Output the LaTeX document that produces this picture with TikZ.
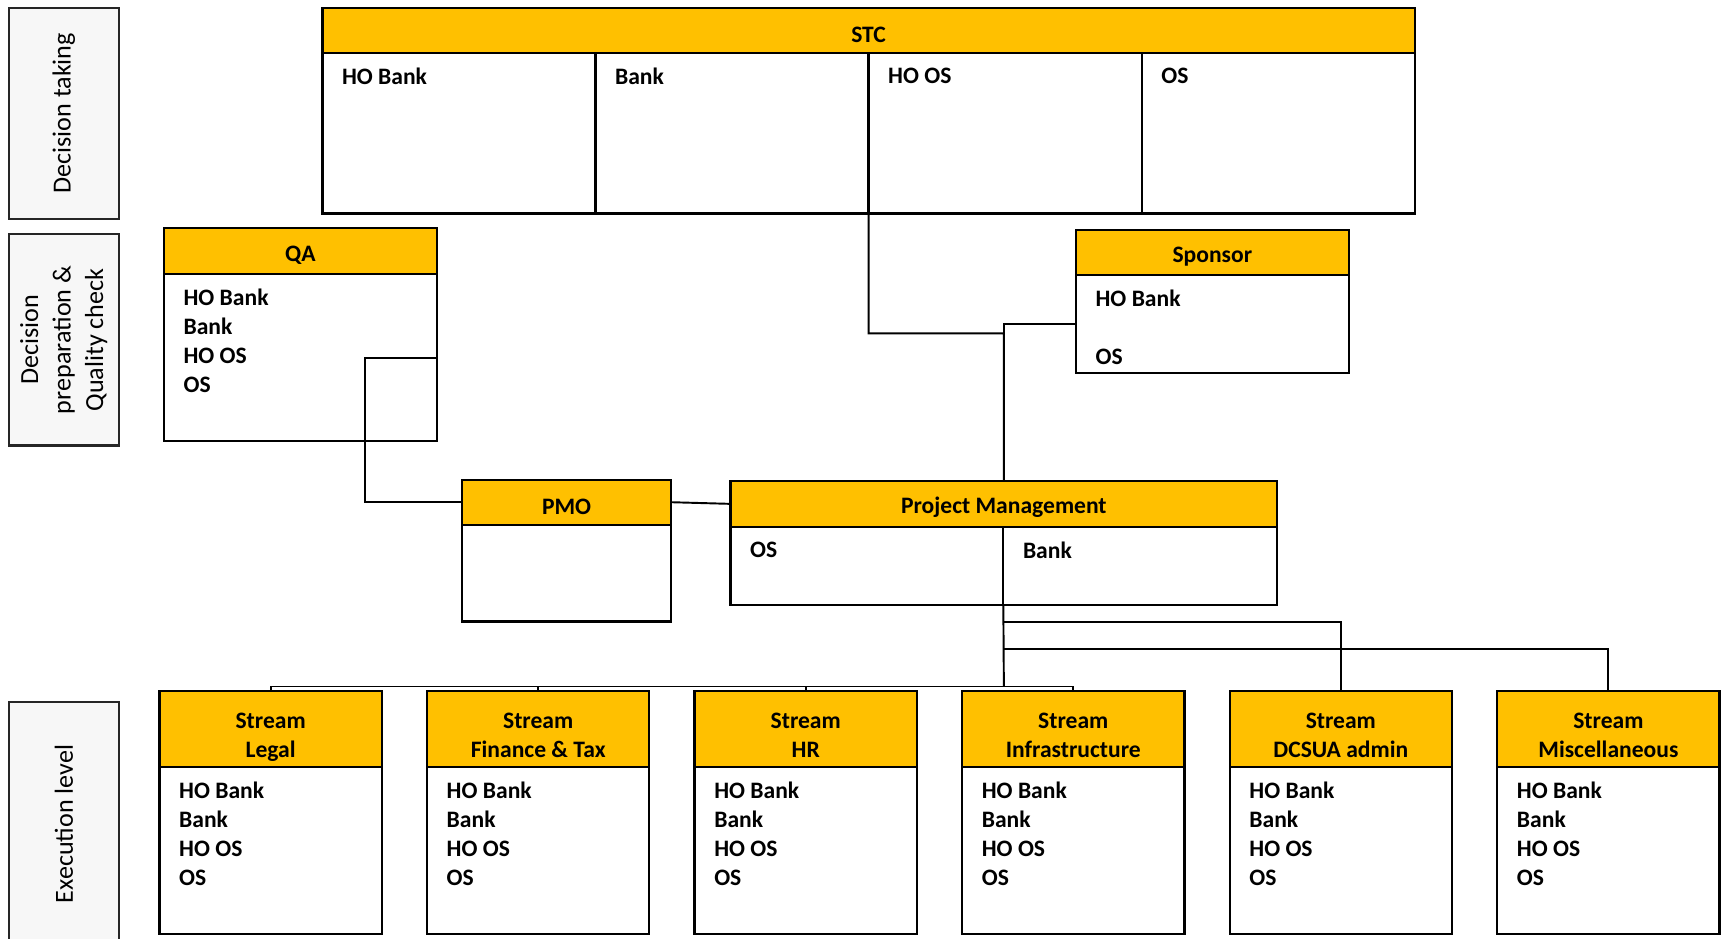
\documentclass[tikz,border=0pt]{standalone}
\usepackage{fontspec}
\setmainfont{Carlito}
\usetikzlibrary{calc, positioning}
\definecolor{myyellow}{RGB}{255, 192, 0}
\definecolor{mygray}{RGB}{247, 247, 247}

\def\pxu{0.02cm}

% box with yellow title bar and empty body below it
\newcommand{\orgbox}[6]{%
	\node[head, anchor=north west, minimum width=#3*\pxu, minimum height=#4*\pxu] (#1h) at (#2) {#6};
	\node[body, below=0pt of #1h, minimum width=#3*\pxu, minimum height=#5*\pxu] (#1) {};
}

\begin{document}
\begin{tikzpicture}[x=0.02cm, y=-0.02cm, line width=1pt,
	head/.style={draw, fill=myyellow, line width=1.2pt, outer sep=0pt, align=center,
		text height=12.5pt, font=\bfseries\fontsize{12.2}{15}\selectfont},
	body/.style={draw, fill=white, line width=1.2pt, outer sep=0pt},
	items/.style={anchor=north west, inner sep=0pt, align=left,
		font=\bfseries\fontsize{12.2}{15}\selectfont},
	side/.style={draw=black!85, fill=mygray, line width=1.2pt, rotate=90, align=center,
		minimum height=100*\pxu, font=\fontsize{13.5}{16.8}\selectfont}]
	
	\useasboundingbox (0,0) rectangle (1568,853.5);
	
	% levels
	\node[side, minimum width=192*\pxu] (lvltop) at (58,103) {Decision taking};
	\node[side, minimum width=192*\pxu] (lvlmid) at (58,309) {Decision\\preparation \&\\Quality check};
	\node[side, minimum width=222*\pxu] (lvlbot) at (58,749) {Execution level};
	
	% STC
	\node[head, anchor=north west, minimum width=993*\pxu, minimum height=41*\pxu] (stch) at (293,7) {STC};
	\node[body, anchor=north west, minimum width=248.25*\pxu, minimum height=146*\pxu] (stc1) at (stch.south west) {};
	\foreach \a/\b in {1/2, 2/3, 3/4}
		\node[body, right=0pt of stc\a, minimum width=248.25*\pxu, minimum height=146*\pxu] (stc\b) {};
	\foreach \n/\who in {1/HO Bank, 2/Bank, 3/HO OS, 4/OS}
		\node[items] at ($(stc\n.north west)+(17,13)$) {\who};
	
	% QA, Sponsor, PMO
	\orgbox{qa}{149,207}{248}{42}{152}{QA}
	\node[items] at ($(qa.north west)+(17,13)$) {HO Bank\\Bank\\HO OS\\OS};
	
	\orgbox{sp}{978,209}{248}{41}{89}{Sponsor}
	\node[items] at ($(sp.north west)+(17,13)$) {HO Bank\\ \\OS};
	
	\orgbox{pmo}{420,436}{190}{41}{88}{PMO}
	
	% Project Management
	\node[head, anchor=north west, minimum width=497*\pxu, minimum height=42*\pxu] (pmh) at (664,437) {Project Management};
	\node[body, anchor=north west, minimum width=248*\pxu, minimum height=71*\pxu] (pm1) at (pmh.south west) {};
	\node[body, right=0pt of pm1, minimum width=249*\pxu, minimum height=71*\pxu] (pm2) {};
	\node[items] at ($(pm1.north west)+(17,13)$) {OS};
	\node[items] at ($(pm2.north west)+(17,13)$) {Bank};
	
	% streams
	\begin{scope}[head/.append style={text height=30.5pt, text depth=1pt}]
	\foreach \i/\name/\title in {0/leg/Legal, 1/fin/Finance \& Tax, 2/hr/HR,
		3/inf/Infrastructure, 4/dcs/DCSUA admin, 5/mis/Miscellaneous}{
		\pgfmathsetmacro\sx{145+243.2*\i}
		\orgbox{\name}{\sx,628}{202}{69}{152}{Stream\\\title}
		\node[items] at ($(\name.north west)+(17,13)$) {HO Bank\\Bank\\HO OS\\OS};
	}
	\end{scope}
	
	% connectors
	\coordinate (stcdrop) at (789.5,303);
	\coordinate (qaturn) at (332,325);
	\coordinate (bus) at (912.5,624);
	\coordinate (tapa) at (912.5,565);
	\coordinate (tapb) at (912.5,590);
	
	\draw ([yshift=0.44cm]stc3.south west) -- (stcdrop) -| (pmh.north);
	\draw (sp.west) -| (pmh.north);
	\draw (qa.east) -- (qaturn) |- (pmoh.west);
	\draw (pmoh.east) -- (pmh.west);
	\draw (pm2.south west) -- (bus);
	\foreach \name in {leg, fin, hr, inf}
		\draw (bus) -| (\name h.north);
	\draw (tapa) -| (dcsh.north);
	\draw (tapb) -| (mish.north);
	
\end{tikzpicture}
\end{document}
